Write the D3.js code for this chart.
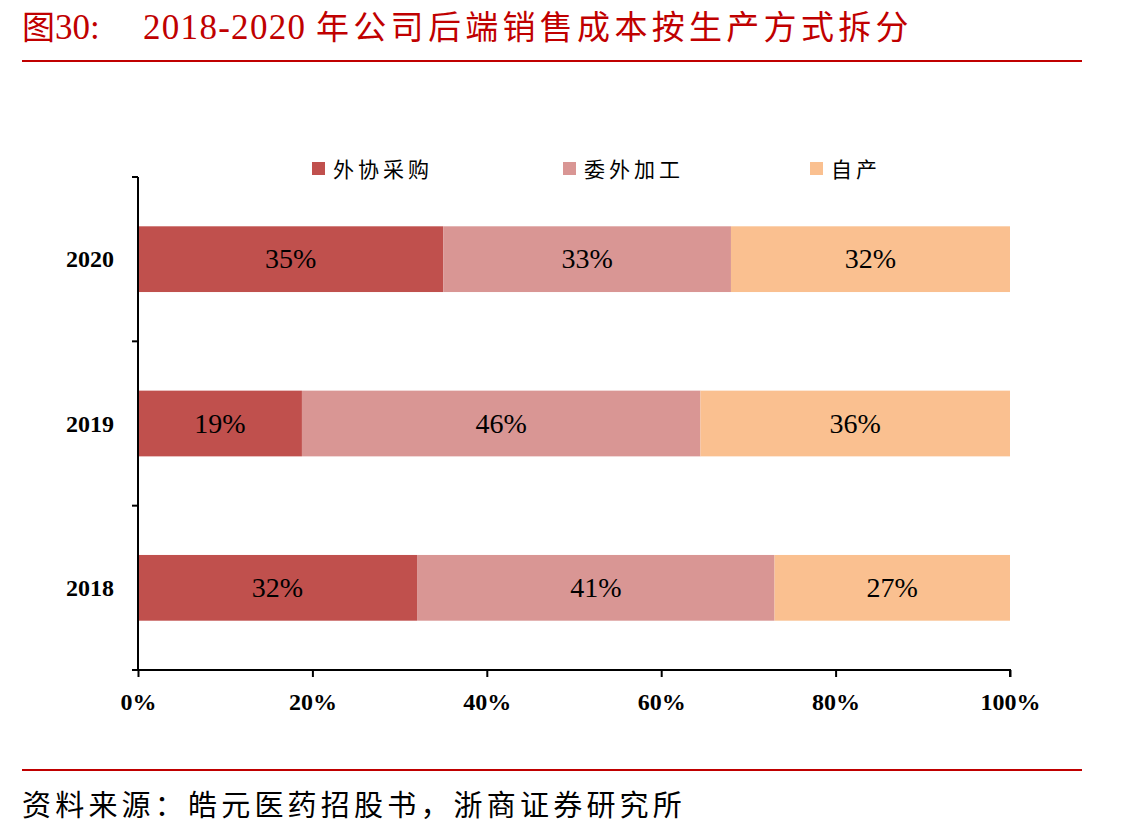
<!DOCTYPE html>
<html><head><meta charset="utf-8">
<script src="https://cdn.jsdelivr.net/npm/d3@7"></script>
<style>body{margin:0;background:#fff}svg{display:block}</style>
</head><body>
<script>
const years = ["2020", "2019", "2018"];
const seriesNames = ["外协采购", "委外加工", "自产"];
const waixie = [35, 18.8, 32];
const weiwai = [33, 45.7, 41];
const zichan = [32, 35.5, 27];
const labels = [["35%","33%","32%"],["19%","46%","36%"],["32%","41%","27%"]];
const colors = ["#C0504D", "#D99694", "#FAC090"];
const xTicks = [0, 20, 40, 60, 80, 100];
const titleParts = ["图30:", "2018-2020", "年公司后端销售成本按生产方式拆分"];
const sourceText = "资料来源：皓元医药招股书，浙商证券研究所";

const W = 1141, H = 838;
const svg = d3.select("body").append("svg").attr("width", W).attr("height", H);
const serif = "'Liberation Serif','Times New Roman',serif";
const cjk = "'Noto Sans CJK SC','Liberation Serif',serif";

// title
const t = svg.append("text").attr("y", 39).attr("fill", "#C00000")
  .style("font-family", "'Liberation Serif','Noto Sans CJK SC',serif").style("font-size", "35px");
t.append("tspan").attr("x", 22).style("font-family", cjk).style("font-size", "33px").text(titleParts[0].slice(0, 1));
t.append("tspan").text(titleParts[0].slice(1));
t.append("tspan").attr("x", 143).attr("textLength", 162).text(titleParts[1]);
t.append("tspan").attr("x", 316).style("font-family", cjk).style("font-size", "33px")
  .style("letter-spacing", "4.3px").text(titleParts[2]);
svg.append("line").attr("x1", 22).attr("x2", 1082).attr("y1", 61).attr("y2", 61)
  .attr("stroke", "#C00000").attr("stroke-width", 2);

const x = d3.scaleLinear().domain([0, 100]).range([138, 1010]);
const y = d3.scaleBand().domain(years).range([177, 670]).paddingInner(0.6).paddingOuter(0.3);

const rows = years.map((yr, i) => ({year: yr, vals: [waixie[i], weiwai[i], zichan[i]], labs: labels[i]}));

rows.forEach(r => {
  let acc = 0;
  r.vals.forEach((v, j) => {
    const x0 = acc, x1 = acc + v; acc = x1;
    svg.append("rect").attr("x", x(x0)).attr("y", y(r.year)).attr("width", x(x1) - x(x0))
      .attr("height", y.bandwidth()).attr("fill", colors[j]);
    svg.append("text").attr("x", (x(x0) + x(x1)) / 2).attr("y", y(r.year) + y.bandwidth() / 2 + 9)
      .attr("text-anchor", "middle").style("font-family", serif).style("font-size", "28px")
      .attr("fill", "#000").text(r.labs[j]);
  });
});

// y axis
const yg = svg.append("g");
yg.append("line").attr("x1", 138).attr("x2", 138).attr("y1", 177).attr("y2", 670).attr("stroke", "#000").attr("stroke-width", 2);
const step = (670 - 177) / 3;
[0,1,2,3].forEach(k => {
  yg.append("line").attr("x1", 132).attr("x2", 138).attr("y1", 177 + k * step).attr("y2", 177 + k * step)
    .attr("stroke", "#000").attr("stroke-width", 2);
});
years.forEach(yr => {
  yg.append("text").attr("x", 114).attr("y", y(yr) + y.bandwidth() / 2 + 8).attr("text-anchor", "end")
    .style("font-family", serif).style("font-size", "24px").style("font-weight", "bold").text(yr);
});

// x axis
const xg = svg.append("g").attr("transform", "translate(0,670)")
  .call(d3.axisBottom(x).tickValues(xTicks).tickSize(7).tickPadding(16).tickFormat(d => d + "%"));
xg.select(".domain").attr("stroke", "#000").attr("stroke-width", 2).attr("d", "M132,0H1010V7");
xg.selectAll(".tick line").attr("stroke", "#000").attr("stroke-width", 2);
xg.selectAll(".tick text").attr("fill", "#000").style("font-family", serif).style("font-size", "24px").style("font-weight", "bold");

// legend
const legX = [312, 563, 810];
seriesNames.forEach((n, j) => {
  svg.append("rect").attr("x", legX[j]).attr("y", 162).attr("width", 13).attr("height", 13).attr("fill", colors[j]);
  svg.append("text").attr("x", legX[j] + 21).attr("y", 177).style("font-family", cjk).style("font-size", "21px")
    .attr("fill", "#000").style("letter-spacing", "4px").text(n);
});

// footer
svg.append("line").attr("x1", 22).attr("x2", 1082).attr("y1", 770).attr("y2", 770)
  .attr("stroke", "#C00000").attr("stroke-width", 2);
svg.append("text").attr("x", 22).attr("y", 816).style("font-family", cjk).style("font-size", "29px")
  .attr("fill", "#000").style("letter-spacing", "4.2px").text(sourceText);
</script>
</body></html>
